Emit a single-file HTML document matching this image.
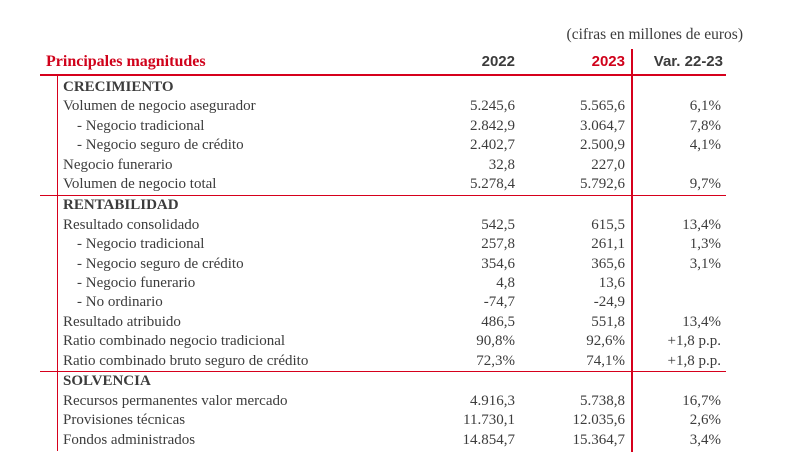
<!DOCTYPE html>
<html><head><meta charset="utf-8"><style>
body{margin:0;width:785px;height:472px;background:#fff;position:relative;overflow:hidden;font-family:"Liberation Serif","DejaVu Serif",serif;color:#3c3c3c;font-size:15px}
.t{position:absolute;white-space:nowrap;line-height:18px;height:18px}
.r{text-align:right}
.b{font-weight:bold}
.red{color:#d0021b}
.ln{position:absolute;background:#d6001c}
</style></head><body>
<div class="t r" style="right:42px;top:26px;font-size:15.5px">(cifras en millones de euros)</div>
<div class="t b red" style="left:46px;top:53px;font-size:16px">Principales magnitudes</div>
<div class="t b r" style="right:270px;top:53px;font-family:'Liberation Sans',sans-serif;font-size:15px">2022</div>
<div class="t b r red" style="right:160px;top:53px;font-family:'Liberation Sans',sans-serif;font-size:15px">2023</div>
<div class="t b r" style="right:62px;top:53px;font-family:'Liberation Sans',sans-serif;font-size:15px">Var. 22-23</div>
<div class="ln" style="left:40px;top:74px;width:686px;height:2px"></div>
<div class="ln" style="left:631px;top:49px;width:2px;height:403px"></div>
<div class="ln" style="left:57px;top:75px;width:1px;height:376px"></div>
<div class="ln" style="left:40px;top:195px;width:686px;height:1px"></div>
<div class="ln" style="left:40px;top:371px;width:686px;height:1px"></div>
<div id="rows"></div>
<script>
var rows=[
[87,"CRECIMIENTO","","","",1],
[106,"Volumen de negocio asegurador","5.245,6","5.565,6","6,1%"],
[126,"   - Negocio tradicional","2.842,9","3.064,7","7,8%"],
[145,"   - Negocio seguro de crédito","2.402,7","2.500,9","4,1%"],
[165,"Negocio funerario","32,8","227,0",""],
[184,"Volumen de negocio total","5.278,4","5.792,6","9,7%"],
[205,"RENTABILIDAD","","","",1],
[225,"Resultado consolidado","542,5","615,5","13,4%"],
[244,"   - Negocio tradicional","257,8","261,1","1,3%"],
[264,"   - Negocio seguro de crédito","354,6","365,6","3,1%"],
[283,"   - Negocio funerario","4,8","13,6",""],
[302,"   - No ordinario","-74,7","-24,9",""],
[322,"Resultado atribuido","486,5","551,8","13,4%"],
[341,"Ratio combinado negocio tradicional","90,8%","92,6%","+1,8 p.p."],
[361,"Ratio combinado bruto seguro de crédito","72,3%","74,1%","+1,8 p.p."],
[381,"SOLVENCIA","","","",1],
[401,"Recursos permanentes valor mercado","4.916,3","5.738,8","16,7%"],
[420,"Provisiones técnicas","11.730,1","12.035,6","2,6%"],
[440,"Fondos administrados","14.854,7","15.364,7","3,4%"]];
var h="";
rows.forEach(function(r){
var top=r[0]-9;var ind=r[1].indexOf("   ")==0;var lab=r[1].trim();
h+='<div class="t'+(r[5]?' b':'')+'" style="left:'+(ind?77:63)+'px;top:'+top+'px">'+lab+'</div>';
h+='<div class="t r" style="right:270px;top:'+top+'px">'+r[2]+'</div>';
h+='<div class="t r" style="right:160px;top:'+top+'px">'+r[3]+'</div>';
h+='<div class="t r" style="right:64px;top:'+top+'px">'+r[4]+'</div>';
});
document.getElementById("rows").innerHTML=h;
</script>
</body></html>
